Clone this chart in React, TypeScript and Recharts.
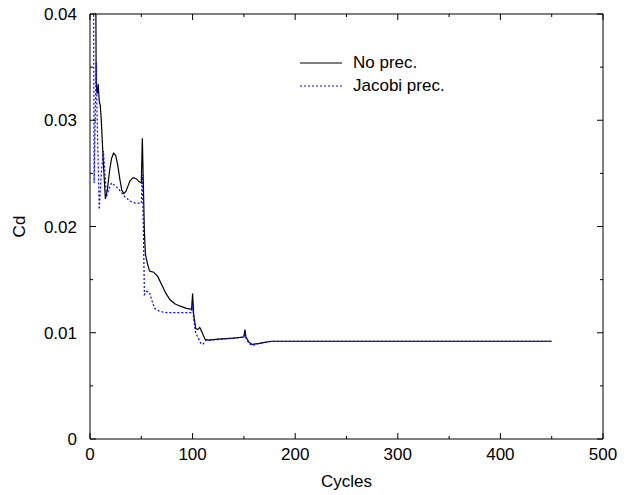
import React from 'react';
import { LineChart, Line, XAxis, YAxis, Legend } from 'recharts';

// Cd history, no preconditioner (cycles / Cd)
const noPrecCycles = [0, 5, 6, 7, 8, 9, 10, 11, 13, 15, 17, 19, 21, 23, 25, 27, 29, 31, 33, 35, 37, 39, 42, 45, 48, 50, 51, 52, 53, 54, 56, 58, 62, 66, 70, 74, 78, 83, 88, 94, 99, 100, 101, 103, 105, 107, 109, 112, 115, 125, 140, 150, 151, 152, 155, 158, 165, 177, 200, 300, 450];
const noPrecCd = [0.09, 0.06, 0.0335, 0.0325, 0.0334, 0.0318, 0.0314, 0.03, 0.026, 0.0226, 0.0235, 0.0252, 0.0264, 0.0269, 0.0267, 0.0258, 0.0245, 0.0234, 0.0231, 0.0233, 0.0238, 0.0243, 0.0246, 0.0245, 0.0242, 0.0241, 0.0283, 0.024, 0.0195, 0.0174, 0.0165, 0.0158, 0.0157, 0.0153, 0.0145, 0.0137, 0.0131, 0.0127, 0.0125, 0.0123, 0.0122, 0.0137, 0.0118, 0.0104, 0.0103, 0.0105, 0.0101, 0.0094, 0.0093, 0.0094, 0.0095, 0.0096, 0.0103, 0.0096, 0.0091, 0.0089, 0.009, 0.0092, 0.0092, 0.0092, 0.0092];

// Cd history, Jacobi preconditioner
const jacobiCycles = [0, 3, 4, 6, 7, 9, 11, 13, 15, 16, 18, 21, 25, 29, 34, 39, 44, 50, 51, 52, 53, 55, 58, 60, 63, 68, 75, 97, 99, 100, 101, 103, 105, 108, 110, 113, 116, 130, 150, 151, 152, 155, 158, 165, 177, 450];
const jacobiCd = [0.09, 0.06, 0.0241, 0.0354, 0.03, 0.0216, 0.025, 0.0271, 0.0245, 0.0228, 0.0234, 0.0241, 0.0238, 0.0234, 0.0228, 0.0224, 0.0222, 0.0222, 0.0249, 0.02, 0.0136, 0.0139, 0.0138, 0.0131, 0.0123, 0.012, 0.0119, 0.0119, 0.0119, 0.0128, 0.0113, 0.01, 0.0096, 0.009, 0.0089, 0.0093, 0.0093, 0.0094, 0.0096, 0.01, 0.0095, 0.009, 0.0088, 0.009, 0.0092, 0.0092];

const seriesNames = ['No prec.', 'Jacobi prec.'];
const xTicks = [0, 50, 100, 150, 200, 250, 300, 350, 400, 450, 500];
const yTicks = [0, 0.005, 0.01, 0.015, 0.02, 0.025, 0.03, 0.035, 0.04];

const noPrecData = noPrecCycles.map((cycle, i) => ({ cycle, cd: noPrecCd[i] }));
const jacobiData = jacobiCycles.map((cycle, i) => ({ cycle, cd: jacobiCd[i] }));

const FONT = '"Liberation Sans", Arial, sans-serif';
const FS = 17;

const isMajorX = (v: number) => v % 100 === 0;
const isMajorY = (v: number) => Math.round(v * 1000) % 10 === 0;

// inward ticks, labels only on the bottom/left axes
const BottomTick = (props: any) => {
    const { x, y, payload } = props;
    const major = isMajorX(payload.value);
    return (
        <g>
            <line x1={x} y1={y} x2={x} y2={y - (major ? 6 : 3)} stroke="#000" strokeWidth={1} />
            {major && (
                <text x={x} y={y + 21} textAnchor="middle" fontFamily={FONT} fontSize={FS} fill="#000">
                    {payload.value}
                </text>
            )}
        </g>
    );
};

const TopTick = (props: any) => {
    const { x, y, payload } = props;
    const major = isMajorX(payload.value);
    return <line x1={x} y1={y} x2={x} y2={y + (major ? 6 : 3)} stroke="#000" strokeWidth={1} />;
};

const LeftTick = (props: any) => {
    const { x, y, payload } = props;
    const major = isMajorY(payload.value);
    return (
        <g>
            <line x1={x} y1={y} x2={x + (major ? 6 : 3)} y2={y} stroke="#000" strokeWidth={1} />
            {major && (
                <text x={x - 13} y={y + 6} textAnchor="end" fontFamily={FONT} fontSize={FS} fill="#000">
                    {String(payload.value)}
                </text>
            )}
        </g>
    );
};

const RightTick = (props: any) => {
    const { x, y, payload } = props;
    const major = isMajorY(payload.value);
    return <line x1={x} y1={y} x2={x - (major ? 6 : 3)} y2={y} stroke="#000" strokeWidth={1} />;
};

const renderLegend = (props: any) => {
    const items = [...(props.payload || [])].sort(
        (a: any, b: any) => seriesNames.indexOf(a.value) - seriesNames.indexOf(b.value)
    );
    return (
        <div style={{ fontFamily: FONT, fontSize: FS, color: '#000' }}>
            {items.map((entry: any) => (
                <div key={entry.value} style={{ display: 'flex', alignItems: 'center', height: 23 }}>
                    <svg width={42} height={4} style={{ marginRight: 11 }}>
                        <line
                            x1={0}
                            y1={2}
                            x2={42}
                            y2={2}
                            stroke={entry.color}
                            strokeWidth={1.2}
                            strokeDasharray={entry.value === 'Jacobi prec.' ? '2 2' : undefined}
                        />
                    </svg>
                    <span>{entry.value}</span>
                </div>
            ))}
        </div>
    );
};

export default function App() {
    return (
        <div style={{ width: 611, height: 487, background: '#fff' }}>
            <style>{'.recharts-surface { overflow: visible; }'}</style>
            <LineChart width={611} height={487} margin={{ top: 5, right: 15, bottom: 6, left: 0 }}>
                <XAxis
                    xAxisId="bottom"
                    dataKey="cycle"
                    type="number"
                    domain={[0, 500]}
                    ticks={xTicks}
                    interval={0}
                    orientation="bottom"
                    height={50}
                    tickSize={0}
                    tickMargin={0}
                    tickLine={false}
                    axisLine={{ stroke: '#000', strokeWidth: 1 }}
                    tick={<BottomTick />}
                    allowDataOverflow
                    label={{
                        content: (p: any) => {
                            const vb = p.viewBox;
                            return (
                                <text x={vb.x + vb.width / 2} y={vb.y + 48} textAnchor="middle" fontFamily={FONT} fontSize={FS} fill="#000">
                                    Cycles
                                </text>
                            );
                        }
                    }}
                />
                <XAxis
                    xAxisId="top"
                    dataKey="cycle"
                    type="number"
                    domain={[0, 500]}
                    ticks={xTicks}
                    interval={0}
                    orientation="top"
                    height={1}
                    tickSize={0}
                    tickMargin={0}
                    tickLine={false}
                    axisLine={{ stroke: '#000', strokeWidth: 1 }}
                    tick={<TopTick />}
                    allowDataOverflow
                />
                <YAxis
                    yAxisId="left"
                    type="number"
                    domain={[0, 0.04]}
                    ticks={yTicks}
                    interval={0}
                    orientation="left"
                    width={82}
                    tickSize={0}
                    tickMargin={0}
                    tickLine={false}
                    axisLine={{ stroke: '#000', strokeWidth: 1 }}
                    tick={<LeftTick />}
                    allowDataOverflow
                    label={{
                        content: (p: any) => {
                            const vb = p.viewBox;
                            const cx = vb.x + 11;
                            const cy = vb.y + vb.height / 2;
                            return (
                                <text
                                    x={cx}
                                    y={cy}
                                    transform={`rotate(-90 ${cx} ${cy})`}
                                    textAnchor="middle"
                                    dominantBaseline="central"
                                    fontFamily={FONT}
                                    fontSize={FS}
                                    fill="#000"
                                >
                                    Cd
                                </text>
                            );
                        }
                    }}
                />
                <YAxis
                    yAxisId="right"
                    type="number"
                    domain={[0, 0.04]}
                    ticks={yTicks}
                    interval={0}
                    orientation="right"
                    width={1}
                    tickSize={0}
                    tickMargin={0}
                    tickLine={false}
                    axisLine={{ stroke: '#000', strokeWidth: 1 }}
                    tick={<RightTick />}
                    allowDataOverflow
                />
                <Legend
                    layout="vertical"
                    verticalAlign="middle"
                    align="center"
                    content={renderLegend}
                    wrapperStyle={{ position: 'absolute', left: 292, top: 43, width: 'auto' }}
                />
                <Line
                    xAxisId="bottom"
                    yAxisId="left"
                    data={noPrecData}
                    dataKey="cd"
                    name={seriesNames[0]}
                    type="linear"
                    stroke="#000000"
                    strokeWidth={1.2}
                    dot={false}
                    activeDot={false}
                    isAnimationActive={false}
                />
                <Line
                    xAxisId="bottom"
                    yAxisId="left"
                    data={jacobiData}
                    dataKey="cd"
                    name={seriesNames[1]}
                    type="linear"
                    stroke="#0000ff"
                    strokeWidth={1.2}
                    strokeDasharray="2 2"
                    dot={false}
                    activeDot={false}
                    isAnimationActive={false}
                />
            </LineChart>
        </div>
    );
}
